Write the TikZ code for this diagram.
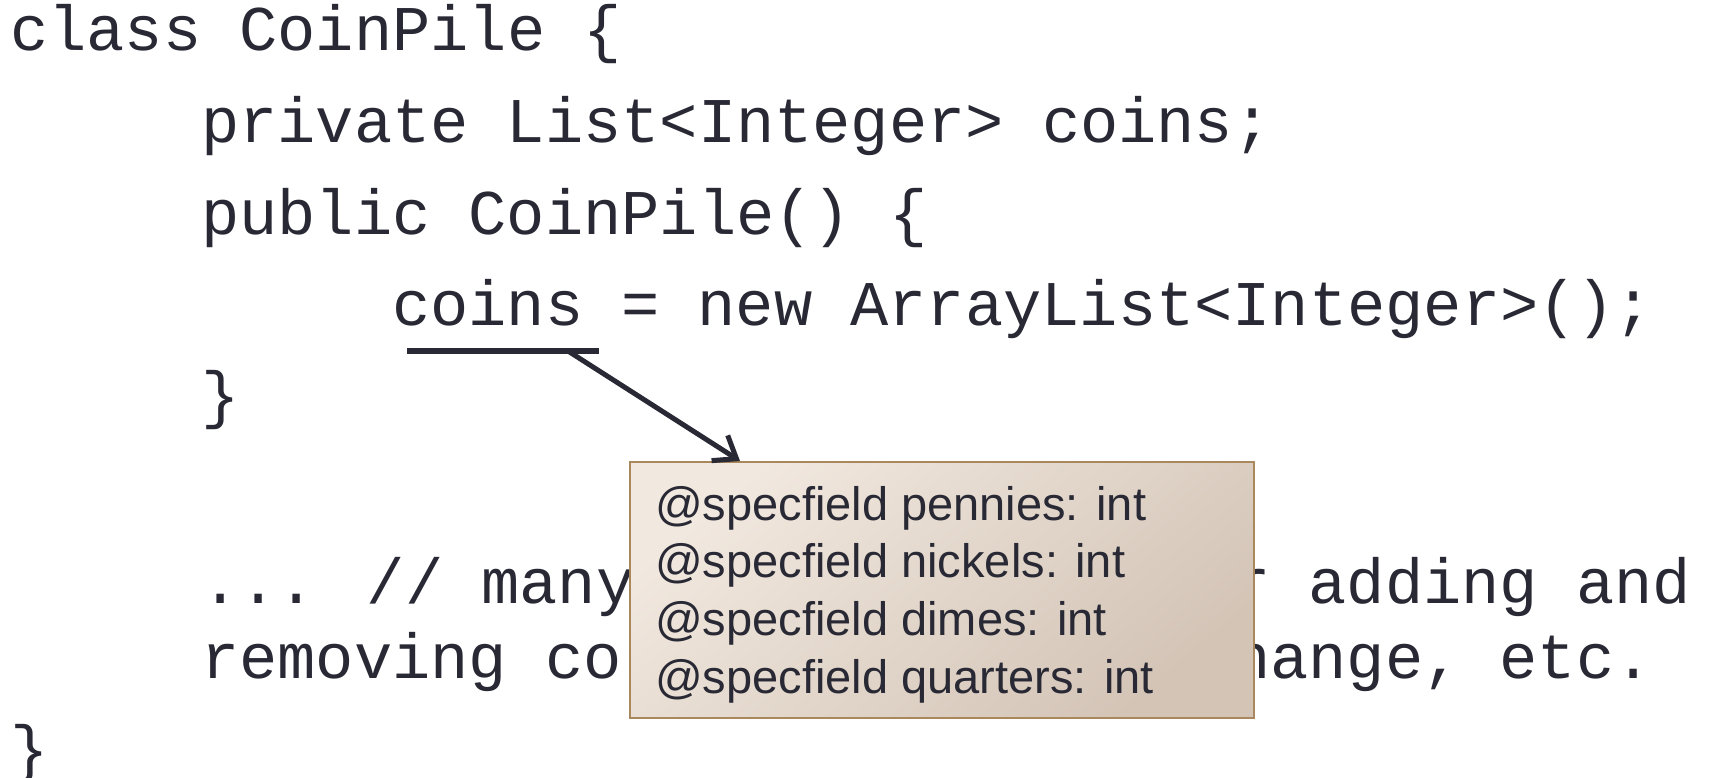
\documentclass[tikz,border=0pt]{standalone}
\usepackage{fontspec}
\newfontfamily\codefont{Liberation Mono}
\newfontfamily\notefont{Liberation Sans}
\usepackage{xcolor}
\definecolor{inkgray}{RGB}{40,41,52}
\definecolor{notelight}{RGB}{241,232,223}
\definecolor{notedark}{RGB}{211,196,182}
\definecolor{noteedge}{RGB}{168,136,92}
\usetikzlibrary{arrows.meta}

\begin{document}
\begin{tikzpicture}[
  x=1pt, y=-1pt,
  code/.style={anchor=base west, inner sep=0pt, text=inkgray,
               font=\codefont\fontsize{63.7}{70}\selectfont},
  spec/.style={anchor=base west, inner sep=0pt, text=inkgray,
               font=\notefont\fontsize{47}{56}\selectfont},
  notebox/.style={rectangle, draw=noteedge, line width=2pt,
                  top color=notelight, bottom color=notedark, shading angle=40,
                  minimum width=624pt, minimum height=256pt, inner sep=0pt},
  uline/.style={line width=5.5pt, color=inkgray},
  arr/.style={-{Straight Barb[length=20pt,width=30pt]}, line width=5pt, color=inkgray}
]
\useasboundingbox (0,0) rectangle (1713,777);

%% code lines
\node[code] (l1) at (10,50)  {class CoinPile \{};
\node[code] (l2) at (201,142) {private List<Integer> coins;};
\node[code] (l3) at (201,234) {public CoinPile() \{};
\node[code] (coins) at (392,325) {coins};
\node[code] (l4) at (621,325) {= new ArrayList<Integer>();};
\node[code] (l5) at (201,416) {\}};
\node[code] (l6a) at (201,603) {... // many};
\node[code] (l6b) at (1232,603) {r adding and};
\node[code] (l7a) at (201,678) {removing co};
\node[code] (l7b) at (1232,678) {hange, etc.};
\node[code] (l8) at (10,770) {\}};

%% underline under coins
\coordinate (ula) at (407,351);
\coordinate (ulb) at (599,351);
\coordinate (ulm) at (568,351);
\draw[uline] (ula) -- (ulb);

%% spec fields box
\node[notebox] (notes) at (942,590) {};
\node[spec] (f1) at (655,520) {@specfield pennies: int};
\node[spec] (f2) at (655,577) {@specfield nickels: int};
\node[spec] (f3) at (655,635) {@specfield dimes: int};
\node[spec] (f4) at (655,693) {@specfield quarters: int};

%% arrow
\draw[arr] (ulm) -- ([xshift=111pt]notes.north west);

\end{tikzpicture}
\end{document}
